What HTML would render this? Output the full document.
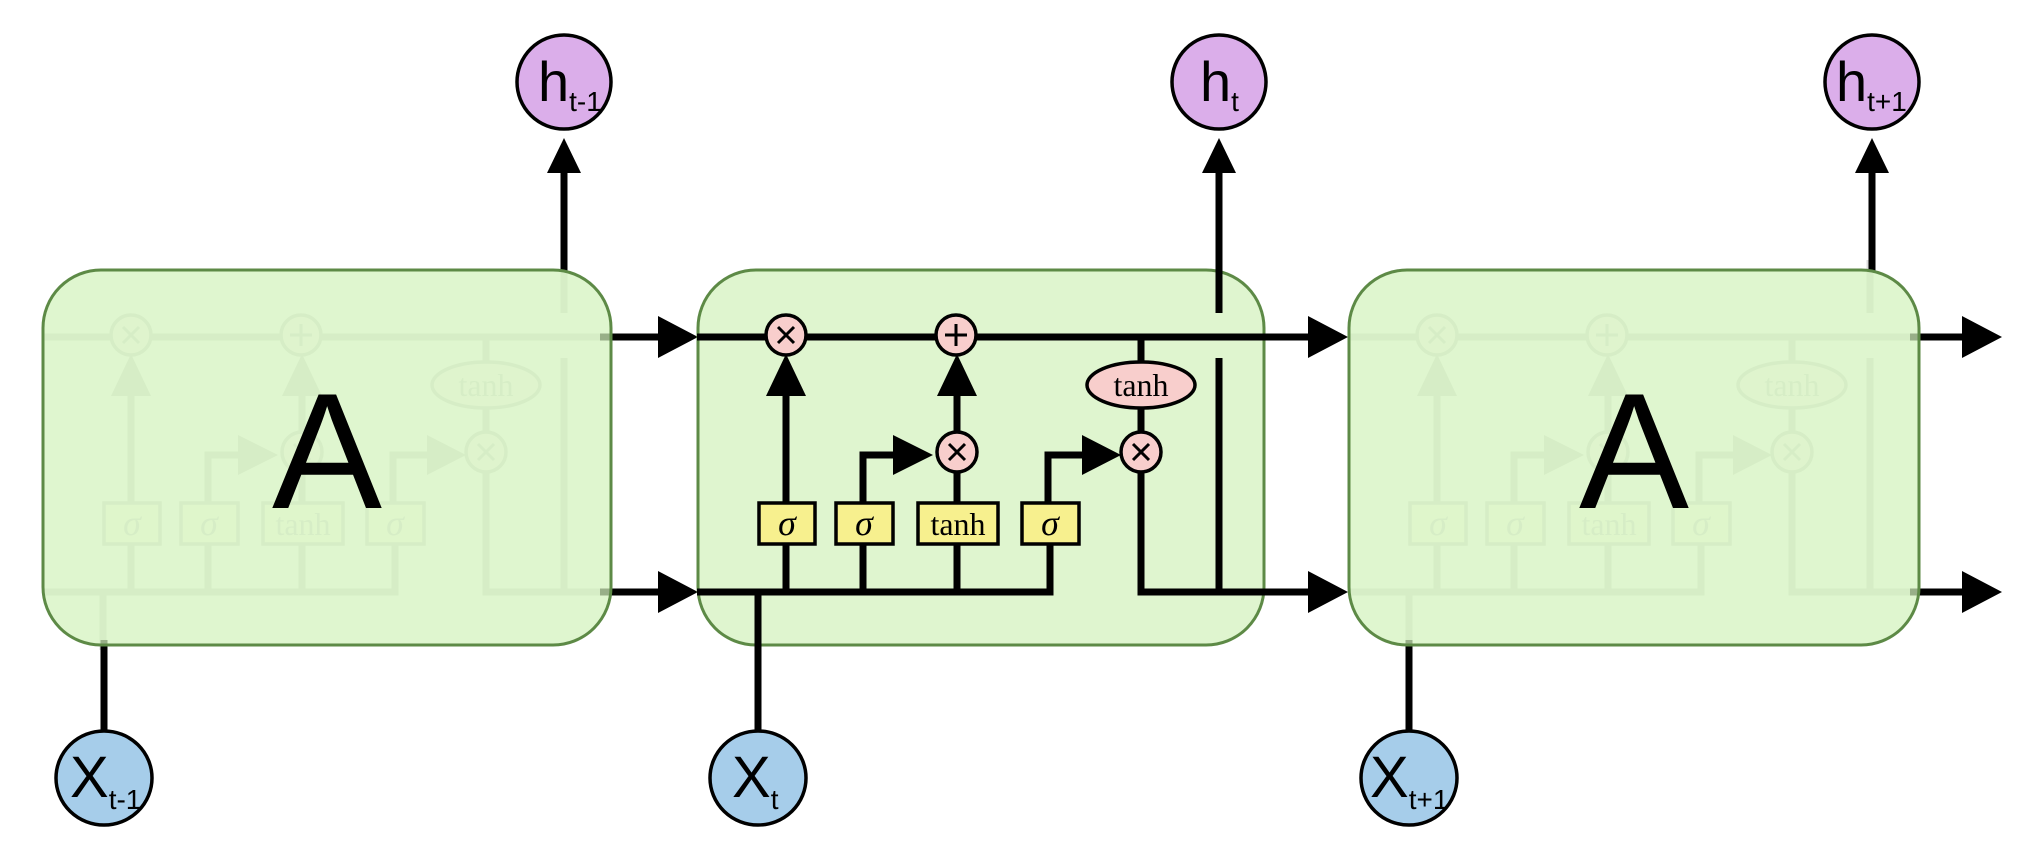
<!DOCTYPE html>
<html><head><meta charset="utf-8"><style>
html,body{margin:0;padding:0;background:#fff;}
svg{display:block;}
text{font-family:"Liberation Sans",sans-serif;}
.serif text{font-family:"Liberation Serif",serif;}
</style></head><body>
<svg width="2037" height="859" viewBox="0 0 2037 859" xmlns="http://www.w3.org/2000/svg">
<defs>
<g id="cell">
  <g stroke="#000" stroke-width="7" fill="none">
    <line x1="697" y1="337" x2="1310" y2="337"/>
    <polyline points="697,592 1050,592 1050,502"/>
    <line x1="786" y1="592" x2="786" y2="545"/>
    <line x1="786" y1="502" x2="786" y2="395"/>
    <polyline points="863,592 863,545"/>
    <polyline points="863,502 863,455 895,455"/>
    <line x1="957" y1="592" x2="957" y2="545"/>
    <line x1="957" y1="502" x2="957" y2="472"/>
    <line x1="957" y1="432" x2="957" y2="395"/>
    <polyline points="1048,502 1048,455 1085,455"/>
    <line x1="1141" y1="337" x2="1141" y2="362"/>
    <line x1="1141" y1="408" x2="1141" y2="432"/>
    <polyline points="1141,472 1141,592 1310,592"/>
    <line x1="1219" y1="358" x2="1219" y2="592"/>
    <line x1="1219" y1="313" x2="1219" y2="260"/>
    <line x1="758" y1="592" x2="758" y2="650"/>
  </g>
  <g fill="#000">
    <polygon points="766,396 806,396 786,354"/>
    <polygon points="937,396 977,396 957,354"/>
    <polygon points="893,435 893,475 933,455"/>
    <polygon points="1082,435 1082,475 1121,455"/>
  </g>
  <g stroke="#000" stroke-width="3.5">
    <ellipse cx="786" cy="335" rx="20" ry="20" fill="#f8cecc"/>
    <ellipse cx="956" cy="335" rx="20" ry="20" fill="#f8cecc"/>
    <ellipse cx="957" cy="452" rx="20" ry="20" fill="#f8cecc"/>
    <ellipse cx="1141" cy="452" rx="20" ry="20" fill="#f8cecc"/>
    <ellipse cx="1141" cy="385" rx="54" ry="23" fill="#f8cecc"/>
    <rect x="759" y="503" width="56" height="41" fill="#f7f08e"/>
    <rect x="836" y="503" width="57" height="41" fill="#f7f08e"/>
    <rect x="918" y="503" width="80" height="41" fill="#f7f08e"/>
    <rect x="1022" y="503" width="57" height="41" fill="#f7f08e"/>
  </g>
  <g stroke="#000" stroke-width="3">
    <line x1="778" y1="327" x2="794" y2="343"/><line x1="794" y1="327" x2="778" y2="343"/>
    <line x1="956" y1="324" x2="956" y2="346"/><line x1="945" y1="335" x2="967" y2="335"/>
    <line x1="949" y1="444" x2="965" y2="460"/><line x1="965" y1="444" x2="949" y2="460"/>
    <line x1="1133" y1="444" x2="1149" y2="460"/><line x1="1149" y1="444" x2="1133" y2="460"/>
  </g>
  <g class="serif" fill="#000" text-anchor="middle">
    <text x="1141" y="396" font-size="32">tanh</text>
    <text x="787" y="535" font-size="36" font-style="italic">σ</text>
    <text x="864" y="535" font-size="36" font-style="italic">σ</text>
    <text x="958" y="535" font-size="32">tanh</text>
    <text x="1050" y="535" font-size="36" font-style="italic">σ</text>
  </g>
</g>
</defs>

<g stroke="#000" stroke-width="7">
  <line x1="564" y1="170" x2="564" y2="272"/>
  <line x1="1219" y1="170" x2="1219" y2="272"/>
  <line x1="1872" y1="170" x2="1872" y2="272"/>
  <line x1="600" y1="337" x2="662" y2="337"/>
  <line x1="600" y1="592" x2="662" y2="592"/>
  <line x1="1260" y1="337" x2="1312" y2="337"/>
  <line x1="1260" y1="592" x2="1312" y2="592"/>
  <line x1="1910" y1="337" x2="1965" y2="337"/>
  <line x1="1910" y1="592" x2="1965" y2="592"/>
  <line x1="104" y1="640" x2="104" y2="735"/>
  <line x1="758" y1="640" x2="758" y2="735"/>
  <line x1="1409" y1="640" x2="1409" y2="735"/>
</g>
<g fill="#000">
  <polygon points="547,173 581,173 564,138"/>
  <polygon points="1202,173 1236,173 1219,138"/>
  <polygon points="1855,173 1889,173 1872,138"/>
  <polygon points="658,316 658,358 698,337"/>
  <polygon points="658,571 658,613 698,592"/>
  <polygon points="1308,316 1308,358 1348,337"/>
  <polygon points="1308,571 1308,613 1348,592"/>
  <polygon points="1962,316 1962,358 2002,337"/>
  <polygon points="1962,571 1962,613 2002,592"/>
</g>

<g opacity="0.13"><use href="#cell" transform="translate(-655,0)"/></g>
<rect x="43" y="270" width="568" height="375" rx="58" fill="#d2f2bc" fill-opacity="0.72" stroke="#5d8a46" stroke-width="3"/>
<text x="327" y="508" font-size="165" text-anchor="middle" fill="#000">A</text>

<rect x="698" y="270" width="566" height="375" rx="58" fill="#dff5cf" stroke="#5d8a46" stroke-width="3"/>
<use href="#cell"/>

<g opacity="0.13"><use href="#cell" transform="translate(651,0)"/></g>
<rect x="1349" y="270" width="570" height="375" rx="58" fill="#d2f2bc" fill-opacity="0.72" stroke="#5d8a46" stroke-width="3"/>
<text x="1634" y="508" font-size="165" text-anchor="middle" fill="#000">A</text>

<g stroke="#000" stroke-width="3.5" fill="#dbaeea">
  <ellipse cx="564" cy="82" rx="47" ry="47"/>
  <ellipse cx="1219" cy="82" rx="47" ry="47"/>
  <ellipse cx="1872" cy="82" rx="47" ry="47"/>
</g>
<g fill="#000">
  <text x="538" y="101" font-size="56">h<tspan font-size="28" dy="10">t-1</tspan></text>
  <text x="1200" y="101" font-size="56">h<tspan font-size="28" dy="10">t</tspan></text>
  <text x="1836" y="101" font-size="56">h<tspan font-size="28" dy="10">t+1</tspan></text>
</g>
<g stroke="#000" stroke-width="3.5" fill="#a6cdea">
  <ellipse cx="104" cy="778" rx="48" ry="47"/>
  <ellipse cx="758" cy="778" rx="48" ry="47"/>
  <ellipse cx="1409" cy="778" rx="48" ry="47"/>
</g>
<g fill="#000">
  <text x="70" y="797" font-size="58">X<tspan font-size="28" dy="12">t-1</tspan></text>
  <text x="732" y="797" font-size="58">X<tspan font-size="28" dy="12">t</tspan></text>
  <text x="1370" y="797" font-size="58">X<tspan font-size="28" dy="12">t+1</tspan></text>
</g>
</svg>
</body></html>
